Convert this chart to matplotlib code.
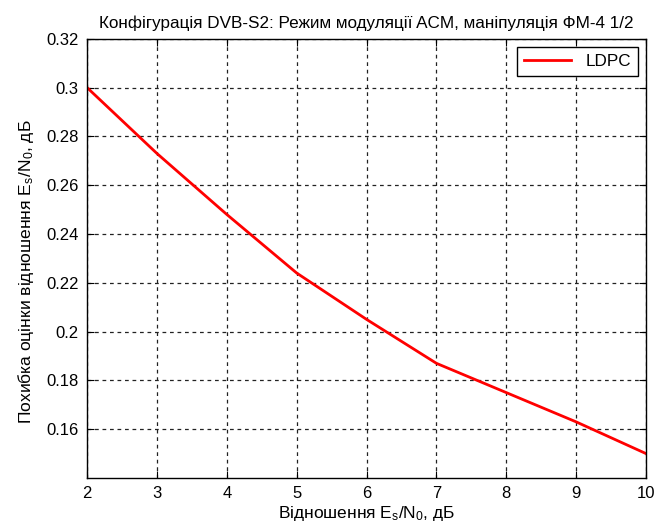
import matplotlib
matplotlib.use("Agg")
import matplotlib.pyplot as plt

plt.rcParams['font.family'] = ['Liberation Sans', 'DejaVu Sans']
plt.rcParams['mathtext.fontset'] = 'custom'
plt.rcParams['mathtext.rm'] = 'Liberation Sans'
plt.rcParams['mathtext.it'] = 'Liberation Sans'

snr_db = [2, 3, 4, 5, 6, 7, 8, 9, 10]
ldpc_err = [0.300, 0.273, 0.248, 0.224, 0.205, 0.187, 0.175, 0.163, 0.150]
xticks = [2, 3, 4, 5, 6, 7, 8, 9, 10]
yticks = [0.16, 0.18, 0.2, 0.22, 0.24, 0.26, 0.28, 0.3, 0.32]
ytick_labels = ['0.16', '0.18', '0.2', '0.22', '0.24', '0.26', '0.28', '0.3', '0.32']

fig = plt.figure(figsize=(6.54, 5.30), dpi=100)
ax = fig.add_axes([0.133, 0.098, 0.855, 0.829])
ax.plot(snr_db, ldpc_err, color='#ff0000', linewidth=2, label='LDPC')
ax.set_xlim(2, 10)
ax.set_ylim(0.14, 0.32)
ax.set_xticks(xticks)
ax.set_yticks(yticks)
ax.set_yticklabels(ytick_labels)
ax.grid(True, color='#222222', linestyle=(0, (3, 3)), linewidth=0.9)
ax.tick_params(direction='in', top=True, right=True, length=5, labelsize=12, pad=6)
for s in ax.spines.values():
    s.set_linewidth(1.0)
ax.set_title('Конфігурація DVB-S2: Режим модуляції ACM, маніпуляція ФМ-4 1/2', fontsize=12.3, pad=8)
ax.set_xlabel('Відношення E$_s$/N$_0$, дБ', fontsize=12.5, labelpad=2)
ax.set_ylabel('Похибка оцінки відношення E$_s$/N$_0$, дБ', fontsize=12.6)
ax.yaxis.set_label_coords(-0.092, 0.47)
leg = ax.legend(loc='upper right', fontsize=12.3, fancybox=False, framealpha=1,
                edgecolor='black', handlelength=2.8, borderpad=0.4)
leg.get_frame().set_linewidth(1.0)
fig.savefig('out.png', dpi=100, facecolor='white')
